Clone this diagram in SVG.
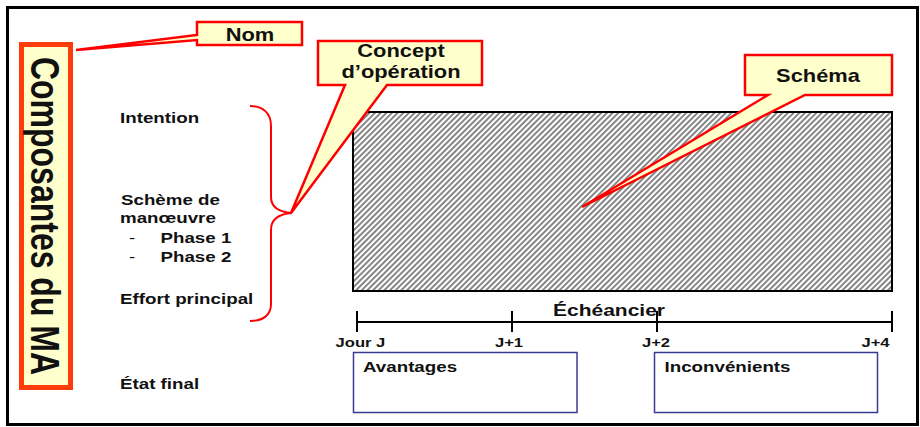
<svg xmlns="http://www.w3.org/2000/svg" width="920" height="427" viewBox="0 0 920 427">
<style>
text{font-family:"Liberation Sans",Arial,sans-serif;fill:#111}
.lbl{font-size:15px;font-weight:bold}
.co{font-size:17.5px;font-weight:bold;text-anchor:middle}
.tk{font-size:13.3px;font-weight:bold}
.tkm{font-size:13.3px;font-weight:bold;text-anchor:middle}
.callout{fill:#FFFFCC;stroke:#FF0000;stroke-width:2.5;stroke-linejoin:miter}
.cbox{fill:#FFFFFF;stroke:#3A3A94;stroke-width:1.5}
.tl{stroke:#000;stroke-width:2;fill:none}
</style>
<defs>
<pattern id="hatch" width="4" height="4" patternUnits="userSpaceOnUse" patternTransform="rotate(45)">
<rect width="4" height="4" fill="#FFFFFF"/>
<line x1="1" y1="0" x2="1" y2="4" stroke="#222" stroke-width="1.1"/>
</pattern>
</defs>
<rect x="0" y="0" width="920" height="427" fill="#FFFFFF"/>
<rect id="frame" x="7.5" y="7.5" width="910" height="417" fill="none" stroke="#000" stroke-width="3"/>

<g id="title">
<rect x="21.5" y="44.5" width="49" height="343" fill="#FFFFCC" stroke="#FF3D0A" stroke-width="5"/>
<text transform="translate(31,216) scale(1.25,1) rotate(90)" style="font-size:32px;font-weight:bold;text-anchor:middle">Composantes du MA</text>
</g>

<g id="labels">
<text class="lbl" transform="translate(120,123) scale(1.25,1)">Intention</text>
<text class="lbl" transform="translate(121,205) scale(1.25,1)">Schème de</text>
<text class="lbl" transform="translate(120,223) scale(1.25,1)">manœuvre</text>
<text class="lbl" transform="translate(129,243) scale(1.25,1)"><tspan x="0" style="font-weight:normal">-</tspan><tspan x="25.2">Phase 1</tspan></text>
<text class="lbl" transform="translate(129,262) scale(1.25,1)"><tspan x="0" style="font-weight:normal">-</tspan><tspan x="25.2">Phase 2</tspan></text>
<text class="lbl" transform="translate(120,304) scale(1.25,1)">Effort principal</text>
<text class="lbl" transform="translate(120,389) scale(1.25,1)">État final</text>
</g>

<g id="connectors">
<path id="brace" d="M250,106 C263,106 271,113 271,126 V197 C271,207 278,212 292,213 C278,214 271,220 271,230 V304 C271,315 263,321 250,321" fill="none" stroke="#FF0000" stroke-width="2"/>
</g>

<g id="schema">
<rect x="353" y="112" width="539" height="179" fill="url(#hatch)" stroke="#000" stroke-width="2"/>
</g>

<g id="callout-nom">
<path class="callout" d="M197,22 H302 V45 H197 V40 L76,50 L197,35 Z"/>
<text class="co" transform="translate(250,41) scale(1.25,1)">Nom</text>
</g>

<g id="callout-concept">
<path class="callout" d="M318,41 H482 V85 H387 L291,213 L345,85 H318 Z"/>
<text class="co" transform="translate(401,57) scale(1.25,1)">Concept</text>
<text class="co" transform="translate(401,78) scale(1.25,1)">d’opération</text>
</g>

<g id="callout-schema">
<path class="callout" d="M745,55 H892 V95 H805 L582,207 L768,95 H745 Z"/>
<text class="co" transform="translate(818,82) scale(1.25,1)">Schéma</text>
</g>

<g id="timeline">
<path class="tl" d="M357,322 H892 M357,311 V332 M512,311 V332 M657,311 V332 M892,311 V332"/>
<text transform="translate(553,316) scale(1.25,1)" style="font-size:16.8px;font-weight:bold">Échéancier</text>
<text class="tk" transform="translate(335.5,347) scale(1.25,1)">Jour J</text>
<text class="tkm" transform="translate(509,347) scale(1.25,1)">J+1</text>
<text class="tkm" transform="translate(656,347) scale(1.25,1)">J+2</text>
<text class="tkm" transform="translate(875.5,347) scale(1.25,1)">J+4</text>
</g>

<g id="avantages">
<rect class="cbox" x="353.5" y="352.5" width="223.5" height="60"/>
<text class="lbl" transform="translate(363,371.5) scale(1.25,1)">Avantages</text>
</g>

<g id="inconvenients">
<rect class="cbox" x="654.5" y="352.5" width="223" height="60"/>
<text class="lbl" transform="translate(664.5,371.5) scale(1.25,1)">Inconvénients</text>
</g>
</svg>
